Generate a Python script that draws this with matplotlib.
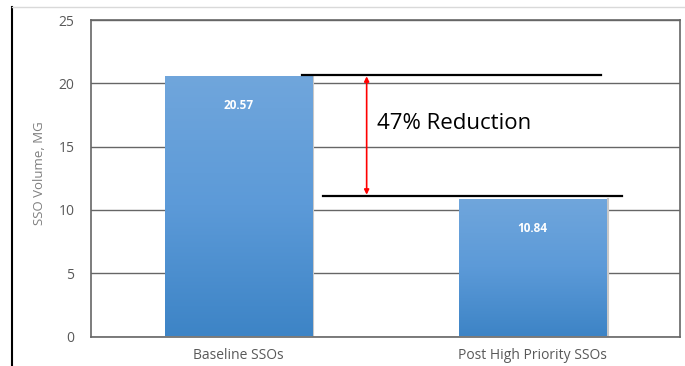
import numpy as np
import matplotlib.pyplot as plt
from matplotlib.colors import LinearSegmentedColormap
from matplotlib.lines import Line2D

categories = ['Baseline SSOs', 'Post High Priority SSOs']
volumes = [20.57, 10.84]
yticks = [0, 5, 10, 15, 20, 25]

plt.rcParams['font.family'] = ['Open Sans', 'DejaVu Sans']

fig = plt.figure(figsize=(6.85, 3.66), dpi=100)
ax = fig.add_axes([91 / 685, 1 - 336.5 / 366, 589 / 685, 316.5 / 366])

x = np.arange(len(categories))
bars = ax.bar(x, volumes, width=0.5, color='none', zorder=3)

# vertical gradient fill for each bar
grad = LinearSegmentedColormap.from_list('bluegrad', ['#3d84c6', '#5c9ad8', '#70a6dc'])
g = np.linspace(0, 1, 256).reshape(-1, 1)
for b in bars:
    x0, y0 = b.get_x(), b.get_y()
    w, h = b.get_width(), b.get_height()
    im = ax.imshow(g, cmap=grad, origin='lower', aspect='auto',
                   extent=[x0, x0 + w, y0, y0 + h], zorder=3)
    im.set_clip_path(b)
    # faint shadow on the right edge
    ax.add_line(Line2D([x0 + w + 0.004, x0 + w + 0.004], [0, h], color='#c8c8c8',
                       lw=1.5, zorder=2))

for xi, v in zip(x, volumes):
    ax.text(xi, v - 2.3, f'{v:.2f}', ha='center', va='center', color='white',
            fontsize=8.5, fontweight='bold', zorder=4)

ax.set_xlim(-0.5, 1.5)
ax.set_ylim(0, 25)
ax.set_yticks(yticks)
ax.set_xticks(x)
ax.set_xticklabels(categories, fontsize=10.5)
ax.yaxis.grid(True, color='#666666', lw=1)
ax.set_axisbelow(True)
for s in ax.spines.values():
    s.set_color('#666666')
    s.set_linewidth(1.2)
ax.tick_params(length=0, colors='#595959', labelsize=10)
ax.tick_params(axis='y', pad=12)
ax.tick_params(axis='x', pad=8)
ax.set_ylabel('SSO Volume, MG', color='#7f7f7f', fontsize=9.5)
ax.yaxis.set_label_coords(-0.076, 0.515)

# reduction annotation
ax.plot([0.216, 1.232], [20.62, 20.62], color='black', lw=1.6, zorder=5, clip_on=False)
ax.plot([0.288, 1.303], [11.12, 11.12], color='black', lw=1.6, zorder=5, clip_on=False)
ax.annotate('', xy=(0.436, 20.55), xytext=(0.436, 11.2),
            arrowprops=dict(arrowstyle='<|-|>', color='red', lw=1.2,
                            mutation_scale=7, shrinkA=0, shrinkB=0), zorder=5)
ax.text(0.471, 16.8, '47% Reduction', fontsize=16, va='center', ha='left', zorder=5)

# slide border lines
fig.add_artist(Line2D([12 / 685, 12 / 685], [0, 1 - 7 / 366], color='black', lw=1.5))
fig.add_artist(Line2D([12 / 685, 1], [1 - 7 / 366, 1 - 7 / 366], color='#d9d9d9', lw=1))

fig.savefig('out.png', dpi=100)
